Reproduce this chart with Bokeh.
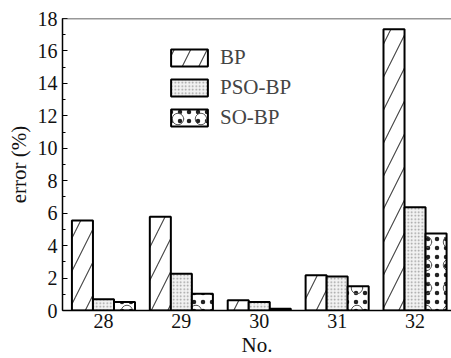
from bokeh.plotting import figure
from bokeh.models import Range1d, Legend, LegendItem, Span, FixedTicker, ColumnDataSource
from bokeh.embed import file_html
from bokeh.resources import INLINE

samples = [28, 29, 30, 31, 32]
bp = [5.55, 5.78, 0.63, 2.17, 17.33]
pso_bp = [0.69, 2.27, 0.53, 2.1, 6.36]
so_bp = [0.52, 1.04, 0.11, 1.5, 4.74]
y_ticks = [0, 2, 4, 6, 8, 10, 12, 14, 16, 18]

FONT = "Liberation Serif"
bw = 0.27

p = figure(frame_width=389, frame_height=292, min_border_left=62, min_border_top=18,
           min_border_bottom=48, min_border_right=0,
           x_range=Range1d(27.474, 32.468), y_range=Range1d(0, 18),
           output_backend="svg", toolbar_location=None)

src = ColumnDataSource(dict(
    x_bp=[s - bw for s in samples], x_pso=samples, x_so=[s + bw for s in samples],
    bp=bp, pso=pso_bp, so=so_bp))

r_bp = p.vbar(x="x_bp", top="bp", width=bw, source=src, fill_color="white",
              line_color="black", line_width=2,
              hatch_pattern="/", hatch_scale=33, hatch_weight=1.1, hatch_color="#444444")
r_pso = p.vbar(x="x_pso", top="pso", width=bw, source=src, fill_color="#f2f2f2",
               line_color="black", line_width=2,
               hatch_pattern=".", hatch_scale=3.5, hatch_weight=0.9, hatch_color="#9a9a9a")
r_so1 = p.vbar(x="x_so", top="so", width=bw, source=src, fill_color="white",
               line_color=None,
               hatch_pattern=".", hatch_scale=9, hatch_weight=1.4, hatch_color="#222222")
r_so2 = p.vbar(x="x_so", top="so", width=bw, source=src, fill_color=None,
               line_color="black", line_width=2,
               hatch_pattern="o", hatch_scale=23, hatch_weight=1, hatch_color="#555555")

legend = Legend(items=[
    LegendItem(label="BP", renderers=[r_bp]),
    LegendItem(label="PSO-BP", renderers=[r_pso]),
    LegendItem(label="SO-BP", renderers=[r_so1, r_so2]),
], location=(104, 180), glyph_width=46, glyph_height=21, label_height=21,
    spacing=5, padding=2, margin=0, border_line_color=None, background_fill_alpha=0,
    label_text_font=FONT, label_text_font_size="21px", label_standoff=8)
p.add_layout(legend)

p.add_layout(Span(location=18, dimension="width", line_color="#333333", line_width=1.5))

p.outline_line_color = None
p.grid.grid_line_color = None
p.background_fill_color = "white"

p.yaxis.ticker = FixedTicker(ticks=y_ticks, minor_ticks=list(range(0, 19)))
p.xaxis.ticker = FixedTicker(ticks=samples)
for ax in (p.xaxis, p.yaxis):
    ax.axis_line_color = "black"
    ax.axis_line_width = 1.5
    ax.major_label_text_font = FONT
    ax.major_label_text_font_size = "20px"
    ax.major_label_text_color = "#111111"
    ax.axis_label_text_font = FONT
    ax.axis_label_text_font_size = "21px"
    ax.axis_label_text_font_style = "normal"
    ax.axis_label_text_color = "#111111"

p.yaxis.major_tick_in = 5
p.yaxis.major_tick_out = 0
p.yaxis.minor_tick_in = 3
p.yaxis.minor_tick_out = 0
p.yaxis.major_label_standoff = 5
p.yaxis.axis_label = "error (%)"
p.yaxis.axis_label_standoff = 4

p.xaxis.major_tick_in = 0
p.xaxis.major_tick_out = 0
p.xaxis.minor_tick_line_color = None
p.xaxis.major_label_standoff = 3
p.xaxis.axis_label = "No."
p.xaxis.axis_label_standoff = 2

open("out.html", "w").write(file_html(p, INLINE))
